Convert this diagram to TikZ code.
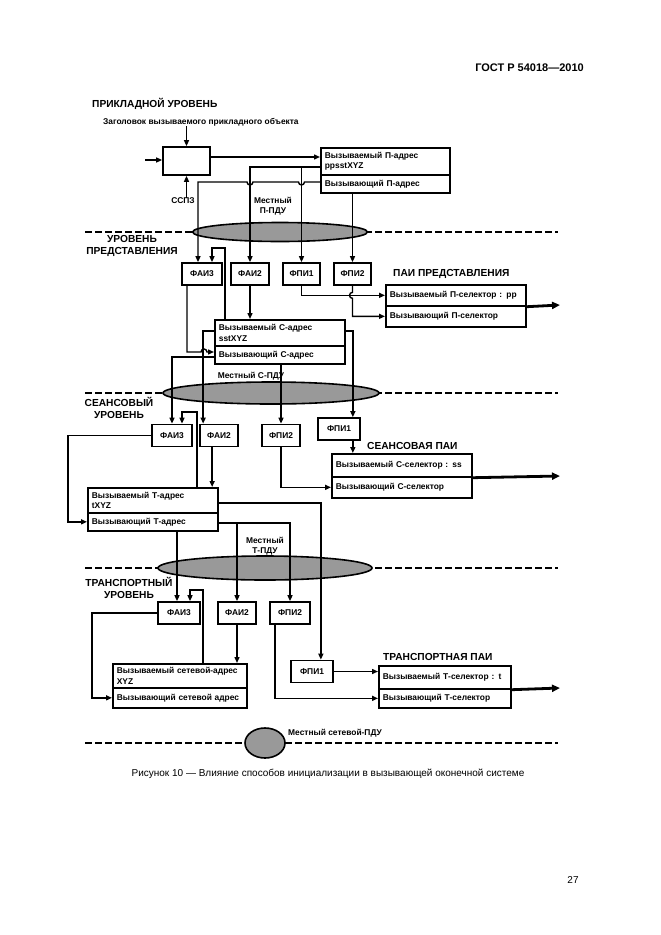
\documentclass[tikz,border=0pt]{standalone}
\usepackage{fontspec}
\setmainfont{Liberation Sans}
\usetikzlibrary{arrows.meta,shapes.geometric,calc}

\begin{document}
\begin{tikzpicture}[x=1pt,y=-1pt,
  every node/.style={inner sep=0pt},
  txt/.style={font=\fontsize{8.4}{10.5}\selectfont\bfseries},
  lvl/.style={font=\fontsize{10.2}{12}\selectfont\bfseries,align=center},
  fn/.style={draw,line width=1.7pt,txt,minimum height=22pt,minimum width=#1},
  adr/.style 2 args={draw,line width=1.7pt,txt,anchor=north west,align=left,
    text width=#1,minimum height=#2,inner xsep=4pt},
  pdu/.style={ellipse,draw,line width=1.6pt,fill=black!40},
  lvlline/.style={line width=1.5pt,dash pattern=on 7pt off 3pt},
  ln/.style={line width=1.4pt},
  arr/.style={-{Triangle[length=6pt,width=5pt]}},
  outarr/.style={line width=2.8pt,-{Triangle[length=8pt,width=7pt]}}]
\useasboundingbox (0,0) rectangle (661,935);

\node[font=\fontsize{11}{13}\selectfont\bfseries,anchor=east] (gost) at (584,68) {ГОСТ Р 54018—2010};
\node[font=\fontsize{10}{12}\selectfont] (cap) at (328,774) {Рисунок 10 — Влияние способов инициализации в вызывающей оконечной системе};
\node[font=\fontsize{10}{12}\selectfont] (pg) at (573,880) {27};

\foreach \y in {232,393,568,743}
  \draw[lvlline] (85,\y) -- (558,\y);
\node[pdu,minimum width=175pt,minimum height=19pt] (ppdu) at (280,232) {};
\node[pdu,minimum width=216pt,minimum height=22pt] (spdu) at (271,393) {};
\node[pdu,minimum width=214pt,minimum height=24pt] (tpdu) at (265,568) {};
\node[pdu,minimum width=40pt,minimum height=30pt] (npdu) at (265,743) {};

\node[lvl,anchor=west] (applvl) at (92,104) {ПРИКЛАДНОЙ УРОВЕНЬ};
\node[lvl] (preslvl) at (132,246) {УРОВЕНЬ\\ПРЕДСТАВЛЕНИЯ};
\node[lvl] (seslvl) at (119,408) {СЕАНСОВЫЙ\\УРОВЕНЬ};
\node[lvl] (trlvl) at (129,588) {ТРАНСПОРТНЫЙ\\УРОВЕНЬ};
\node[lvl,anchor=west] (ppai) at (393,274) {ПАИ ПРЕДСТАВЛЕНИЯ};
\node[lvl,anchor=west] (spai) at (367,446) {СЕАНСОВАЯ ПАИ};
\node[lvl,anchor=west] (tpai) at (383,657) {ТРАНСПОРТНАЯ ПАИ};
\node[txt,align=center] (ppdut) at (273,206) {Местный\\П-ПДУ};
\node[txt] (spdut) at (251,376) {Местный С-ПДУ};
\node[txt,align=center] (tpdut) at (265,546) {Местный\\Т-ПДУ};
\node[txt,anchor=west] (npdut) at (288,733) {Местный сетевой-ПДУ};
\node[txt,anchor=west] (hdr) at (103,122) {Заголовок вызываемого прикладного объекта};
\node[txt] (sspz) at (183,201) {ССПЗ};

\node[draw,line width=1.7pt,minimum width=47pt,minimum height=28pt] (app) at (186.5,161) {};
\node[adr={121pt}{27pt}] (pcd) at (320,147) {Вызываемый П-адрес\\ppsstXYZ};
\node[adr={121pt}{18pt}] (pcg) at (320,174) {Вызывающий П-адрес};

\node[fn=40pt] (pfai3) at (202,274) {ФАИ3};
\node[fn=38pt] (pfai2) at (250,274) {ФАИ2};
\node[fn=37pt] (pfpi1) at (301.5,274) {ФПИ1};
\node[fn=37pt] (pfpi2) at (352.5,274) {ФПИ2};
\node[adr={132pt}{21pt}] (ppa1) at (385,284) {Вызываемый П-селектор : pp};
\node[adr={132pt}{21pt}] (ppa2) at (385,305) {Вызывающий П-селектор};
\node[adr={122pt}{26pt}] (ccd) at (214,319) {Вызываемый С-адрес\\sstXYZ};
\node[adr={122pt}{18pt}] (ccg) at (214,345) {Вызывающий С-адрес};

\node[fn=40pt] (sfai3) at (172,435.5) {ФАИ3};
\node[fn=38pt] (sfai2) at (219,435.5) {ФАИ2};
\node[fn=38pt] (sfpi2) at (281,435.5) {ФПИ2};
\node[fn=42pt] (sfpi1) at (339,429) {ФПИ1};
\node[adr={132pt}{23pt}] (spa1) at (331,453) {Вызываемый С-селектор : ss};
\node[adr={132pt}{21pt}] (spa2) at (331,476) {Вызывающий С-селектор};
\node[adr={122pt}{25pt}] (tcd) at (87,487) {Вызываемый Т-адрес\\tXYZ};
\node[adr={122pt}{18pt}] (tcg) at (87,512) {Вызывающий Т-адрес};

\node[fn=42pt] (tfai3) at (179,613) {ФАИ3};
\node[fn=38pt] (tfai2) at (237,613) {ФАИ2};
\node[fn=40pt] (tfpi2) at (290,613) {ФПИ2};
\node[fn=42pt] (tfpi1) at (312,671.5) {ФПИ1};
\node[adr={124pt}{23pt}] (tpa1) at (378,665) {Вызываемый Т-селектор : t};
\node[adr={124pt}{19pt}] (tpa2) at (378,688) {Вызывающий Т-селектор};
\node[adr={126pt}{24pt}] (ncd) at (112,663) {Вызываемый сетевой-адрес\\XYZ};
\node[adr={126pt}{20pt}] (ncg) at (112,687) {Вызывающий сетевой адрес};

\coordinate (in) at (145,160);
\coordinate (pfb) at (212,248);
\coordinate (sfb) at (182,412);
\coordinate (tfb) at (190,590);
\coordinate (sl) at (68,0);
\coordinate (tl) at (92,0);
\coordinate (sa2) at ($(sfai2.south west)+(13,0)$);
\coordinate (sp1) at ($(sfpi1.south east)+(-8,0)$);
\coordinate (pout) at (560,305);
\coordinate (sout) at (560,476);
\coordinate (tout) at (560,688);

\draw[ln,arr] (in) -- (app.west |- in);
\draw[ln,arr] (hdr.south -| app.north) -- (app.north);
\draw[ln,arr] (sspz.north -| app.south) -- (app.south);
\draw[ln,arr] (app.east |- 0,157) -- (pcd.west |- 0,157);
\draw[ln,arr] (pcd.west |- 0,167) -| (pfai2.north);
\draw[ln,arr] (pfpi1.north |- 0,167) -- (pfpi1.north);
\draw[ln,arr] (pcg.west |- 0,182) -- ($(pfpi1.north |- 0,182)+(3,0)$)
  arc[start angle=0,end angle=-180,radius=3pt] -- ($(pfai2.north |- 0,182)+(3,0)$)
  arc[start angle=0,end angle=-180,radius=3pt] -- (198,182) -- (198,182 |- pfai3.north);
\draw[ln,arr] (pcg.south -| pfpi2.north) -- (pfpi2.north);

\draw[ln,arr] (ccd.north -| 225,0) |- (pfb) -- (pfb |- pfai3.north);
\draw[ln,arr] (pfai2.south) -- (pfai2.south |- ccd.north);
\draw[ln,arr] (pfpi1.south) |- (ppa1.west);
\draw[ln,arr] (pfpi2.south) -- ($(pfpi2.south |- ppa1.west)+(0,-3)$)
  arc[start angle=90,end angle=270,radius=3pt] |- (ppa2.west);
\draw[outarr] (ppa1.south east) -- (pout);
\draw[ln,arr] (187,0 |- pfai3.south) -- (187,352) -- (201,352)
  arc[start angle=180,end angle=0,radius=3pt] -- (ccg.west |- 0,352);

\draw[ln,arr] (ccd.west |- 0,331) -| ($(sfai2.north west)+(4,0)$);
\draw[ln,arr] (ccg.west |- 0,357) -| (sfai3.north);
\draw[ln,arr] (ccd.east |- 0,331) -| ($(sfpi1.north east)+(-8,0)$);
\draw[ln,arr] (ccg.south -| sfpi2.north) -- (sfpi2.north);

\draw[ln,arr] (tcd.north -| 197,0) |- (sfb) -- (sfb |- sfai3.north);
\draw[ln,arr] (sa2) -- (sa2 |- tcd.north);
\draw[ln,arr] (sfai3.west) -- (sfai3.west -| sl) |- (tcg.west);
\draw[ln,arr] (sfpi2.south) |- (spa2.west);
\draw[ln,arr] (sp1) -- (sp1 |- spa1.north);
\draw[outarr] (spa1.south east) -- (sout);

\draw[ln,arr] (tcd.east |- 0,503) -| ($(tfpi1.north east)+(-13,0)$);
\draw[ln,arr] (tcg.east |- 0,523) -| (tfpi2.north);
\draw[ln,arr] (tfai2.north |- 0,523) -- (tfai2.north);
\draw[ln,arr] (tcg.south -| 177,0) -- (177,0 |- tfai3.north);
\draw[ln,arr] (ncd.north -| 203,0) |- (tfb) -- (tfb |- tfai3.north);
\draw[ln,arr] (tfai3.west) -- (tfai3.west -| tl) |- (ncg.west);
\draw[ln,arr] (tfai2.south) -- (tfai2.south |- ncd.north);
\draw[ln,arr] (275,0 |- tfpi2.south) |- (tpa2.west);
\draw[ln,arr] (tfpi1.east) -- (tpa1.west |- tfpi1.east);
\draw[outarr] (tpa1.south east) -- (tout);
\end{tikzpicture}
\end{document}
